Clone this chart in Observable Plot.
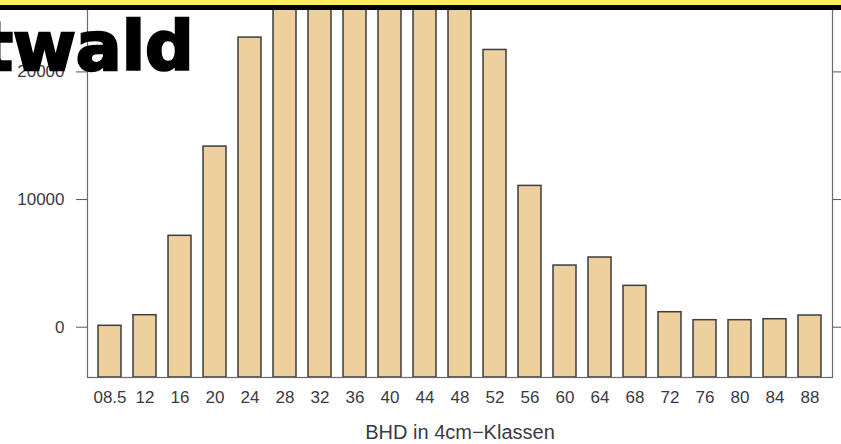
<!DOCTYPE html>
<html>
<head>
<meta charset="utf-8">
<script src="https://cdn.jsdelivr.net/npm/d3@7"></script>
<script src="https://cdn.jsdelivr.net/npm/@observablehq/plot@0.6"></script>
<style>
  html, body { margin: 0; padding: 0; background: #fff; }
  #wrap { position: relative; width: 841px; height: 444px; overflow: hidden; background: #fff; font-family: "Liberation Sans", Arial, sans-serif; }
  #chart { position: absolute; left: 0; top: -473px; }
  #band { position: absolute; left: 0; top: 0; width: 841px; height: 5px; background: #fdec5c; }
  #rule { position: absolute; left: 0; top: 5px; width: 841px; height: 5px; background: #000; }
  #title { position: absolute; left: -19.5px; top: 12.5px; font: bold 68px/1 "DejaVu Sans", "Liberation Sans", Arial, sans-serif; color: #000; -webkit-text-stroke: 2.5px #000; white-space: nowrap; }
  g[aria-label="x-axis label"] text { font-size: 20px; }
</style>
</head>
<body>
<div id="wrap">
  <div id="chart"></div>
  <div id="band"></div>
  <div id="rule"></div>
  <div id="title">twald</div>
</div>
<script>
// Diameter classes (BHD, 4 cm classes)
const classes = ["08.5","12","16","20","24","28","32","36","40","44","48","52","56","60","64","68","72","76","80","84","88"];
// Stem counts per class (classes 28–48 run off the top of the cropped picture; estimated)
const counts = [110, 940, 7160, 14150, 22690, 33000, 45000, 55000, 58500, 50000, 36000, 21720, 11070, 4830, 5460, 3240, 1175, 550, 550, 625, 915];
const yTicks = [0, 10000, 20000, 30000, 40000, 50000, 60000];
const yDomain = [-3940, 62650];
const xTitle = "BHD in 4cm\u2212Klassen";

const data = classes.map((c, i) => ({cls: c, n: counts[i]}));

const chart = Plot.plot({
  width: 841,
  height: 920,
  marginTop: 0,
  marginBottom: 70,
  marginLeft: 87,
  marginRight: 9,
  style: {fontFamily: "Liberation Sans, Arial, sans-serif", background: "transparent"},
  x: {type: "band", domain: classes, paddingInner: 0.33, paddingOuter: 0.27},
  y: {domain: yDomain},
  marks: [
    Plot.barY(data, {x: "cls", y1: yDomain[0], y2: "n", fill: "#eecf9e", stroke: "#3d3d3d", strokeWidth: 1.5, clip: true}),
    Plot.frame({stroke: "#6a6a6a", strokeWidth: 1.2}),
    Plot.axisY({anchor: "left", ticks: yTicks, tickFormat: d => String(d), tickSize: 11, tickPadding: 12, fontSize: 17, color: "#3a3a44", stroke: "#555", label: null}),
    Plot.axisY({anchor: "right", ticks: yTicks, tickFormat: () => "", tickSize: 11, stroke: "#555", label: null}),
    Plot.axisX({anchor: "bottom", tickSize: 0, tickPadding: 13, fontSize: 17, color: "#3a3a44", label: xTitle, labelAnchor: "center", labelOffset: 61})
  ]
});
document.getElementById("chart").appendChild(chart);
</script>
</body>
</html>
